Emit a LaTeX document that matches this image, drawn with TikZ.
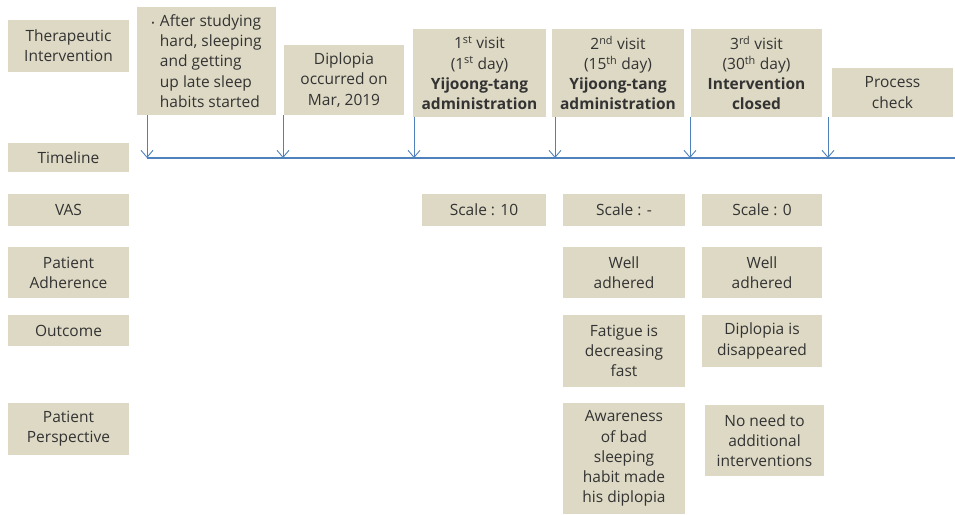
\documentclass[tikz,border=0pt]{standalone}
\usepackage{fontspec}
\setmainfont{Open Sans}
\usetikzlibrary{arrows.meta}
\definecolor{boxfill}{HTML}{DDD9C4}
\definecolor{txt}{HTML}{333333}
\definecolor{tl}{HTML}{4F81BD}
\newcommand\mybox[6]{\node[box, minimum width={#3-#1}, minimum height={#4-#2}] (#5) at ({(#1+#3)/2},{(#2+#4)/2}) {#6};}
\newcommand\bul{{\small\textbullet}\,\,}
\begin{document}
\begin{tikzpicture}[x=1pt,y=-1pt,
  box/.style={fill=boxfill, draw=none, inner sep=0pt, align=center, text=txt,
    font=\fontsize{15.5}{20.2}\selectfont},
  tick/.style={draw=tl, line width=0.9pt, -{Straight Barb[length=7pt,width=12pt,line width=0.9pt]}},
  tline/.style={draw=tl, line width=1.8pt}]
\useasboundingbox (0,0) rectangle (955,514);
% left labels
\mybox{8}{20}{129}{72}{lab1}{Therapeutic\\Intervention}
\mybox{8}{143}{129}{172}{lab2}{Timeline}
\mybox{8}{194}{129}{226}{lab3}{VAS}
\mybox{8}{247}{129}{298}{lab4}{Patient\\Adherence}
\mybox{8}{315}{129}{346}{lab5}{Outcome}
\mybox{8}{403}{129}{455}{lab6}{Patient\\Perspective}
% top row
\node[box, align=left, minimum width=139, minimum height=108] (t1) at ({(137+276)/2},{(7+115)/2})
  {\bul After studying\\\hphantom{\bul}hard, sleeping\\\hphantom{\bul}and getting\\\hphantom{\bul}up late sleep\\\hphantom{\bul}habits started};
\mybox{284}{45}{404}{115}{t2}{Diplopia\\occurred on\\Mar, 2019}
\mybox{413}{29}{546}{117}{t3}{1\textsuperscript{st} visit\\(1\textsuperscript{st} day)\\\textbf{Yijoong-tang}\\\textbf{administration}}
\mybox{552}{29}{684}{117}{t4}{2\textsuperscript{nd} visit\\(15\textsuperscript{th} day)\\\textbf{Yijoong-tang}\\\textbf{administration}}
\mybox{691}{29}{822}{117}{t5}{3\textsuperscript{rd} visit\\(30\textsuperscript{th} day)\\\textbf{Intervention}\\\textbf{closed}}
\mybox{832}{68}{953}{117}{t6}{Process\\check}
% VAS
\mybox{422}{194}{546}{226}{v1}{Scale : 10}
\mybox{563}{194}{685}{226}{v2}{Scale : -}
\mybox{702}{194}{822}{226}{v3}{Scale : 0}
% adherence
\mybox{563}{247}{685}{298}{a2}{Well\\adhered}
\mybox{702}{247}{822}{298}{a3}{Well\\adhered}
% outcome
\mybox{563}{315}{685}{387}{o2}{Fatigue is\\decreasing\\fast}
\mybox{702}{315}{822}{367}{o3}{Diplopia is\\disappeared}
% perspective
\mybox{563}{403}{685}{514}{p2}{Awareness\\of bad\\sleeping\\habit made\\his diplopia}
\mybox{705}{405}{824}{476}{p3}{No need to\\additional\\interventions}
% timeline
\coordinate (c1) at (147,158);
\coordinate (c2) at (283,158);
\coordinate (c3) at (414,158);
\coordinate (c4) at (555,158);
\coordinate (c5) at (690,158);
\coordinate (c6) at (828,158);
\coordinate (cend) at (955,158);
\draw[tline] (c1) -- (cend);
\draw[tick] (c1 |- t1.south) -- (c1);
\draw[tick] (c2 |- t2.south) -- (c2);
\draw[tick] (c3 |- t3.south) -- (c3);
\draw[tick] (c4 |- t4.south) -- (c4);
\draw[tick] (c5 |- t5.south) -- (c5);
\draw[tick] (c6 |- t6.south) -- (c6);
\end{tikzpicture}
\end{document}
